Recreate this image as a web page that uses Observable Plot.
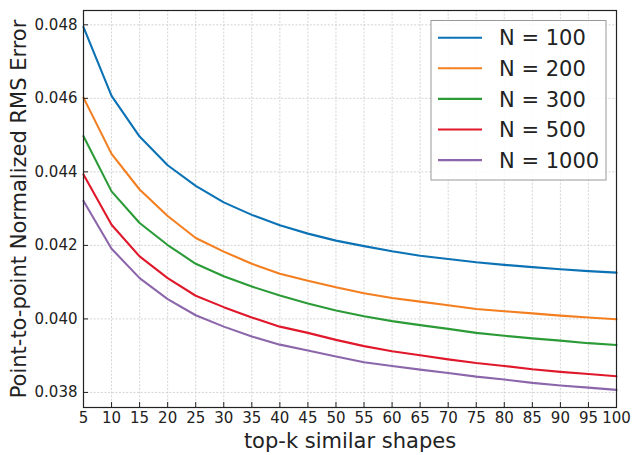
<!DOCTYPE html>
<html>
<head>
<meta charset="utf-8">
<script src="https://cdn.jsdelivr.net/npm/d3@7"></script>
<script src="https://cdn.jsdelivr.net/npm/@observablehq/plot@0.6"></script>
<style>
  html, body { margin: 0; padding: 0; background: white; }
</style>
</head>
<body>
<div id="chart"></div>
<script>
const kValues = [5, 10, 15, 20, 25, 30, 35, 40, 45, 50, 55, 60, 65, 70, 75, 80, 85, 90, 95, 100];
const seriesNames = ["N = 100", "N = 200", "N = 300", "N = 500", "N = 1000"];
const seriesColors = ["#0b72b5", "#f47f20", "#2b9b37", "#e0182b", "#8c66ab"];
const n100  = [0.04794, 0.04607, 0.04496, 0.04418, 0.04362, 0.04317, 0.04283, 0.04255, 0.04232, 0.04213, 0.04198, 0.04184, 0.04172, 0.04163, 0.04154, 0.04147, 0.04141, 0.04135, 0.04130, 0.04126];
const n200  = [0.04602, 0.04449, 0.04352, 0.04280, 0.04220, 0.04183, 0.04150, 0.04123, 0.04104, 0.04086, 0.04070, 0.04057, 0.04047, 0.04037, 0.04027, 0.04021, 0.04015, 0.04009, 0.04004, 0.03999];
const n300  = [0.04497, 0.04347, 0.04261, 0.04201, 0.04150, 0.04116, 0.04088, 0.04064, 0.04042, 0.04023, 0.04007, 0.03994, 0.03983, 0.03973, 0.03962, 0.03954, 0.03947, 0.03941, 0.03934, 0.03929];
const n500  = [0.04393, 0.04256, 0.04170, 0.04111, 0.04063, 0.04032, 0.04004, 0.03979, 0.03962, 0.03943, 0.03926, 0.03912, 0.03901, 0.03890, 0.03880, 0.03872, 0.03863, 0.03856, 0.03850, 0.03844];
const n1000 = [0.04321, 0.04191, 0.04111, 0.04054, 0.04010, 0.03979, 0.03952, 0.03930, 0.03914, 0.03898, 0.03882, 0.03872, 0.03862, 0.03853, 0.03843, 0.03835, 0.03826, 0.03819, 0.03813, 0.03807];
const yTicks = [0.038, 0.040, 0.042, 0.044, 0.046, 0.048];
const xTicks = kValues;
const xLabel = "top-k similar shapes";
const yLabel = "Point-to-point Normalized RMS Error";

const allSeries = [n100, n200, n300, n500, n1000];
const data = [];
allSeries.forEach((vals, si) => {
  vals.forEach((v, i) => data.push({k: kValues[i], v, series: seriesNames[si]}));
});

const W = 632, H = 455;
const plot = Plot.plot({
  width: W,
  height: H,
  marginLeft: 83,
  marginRight: 16,
  marginTop: 10,
  marginBottom: 48,
  style: {fontFamily: "'DejaVu Sans', sans-serif", fontSize: "15px", color: "#222", background: "white", overflow: "visible"},
  x: {domain: [5, 100]},
  y: {domain: [0.03759, 0.04839]},
  color: {domain: seriesNames, range: seriesColors},
  marks: [
    Plot.gridX(xTicks, {stroke: "#cfcfcf", strokeOpacity: 1, strokeWidth: 0.9, strokeDasharray: "2,1.6"}),
    Plot.gridY(yTicks, {stroke: "#cfcfcf", strokeOpacity: 1, strokeWidth: 0.9, strokeDasharray: "2,1.6"}),
    Plot.line(data, {x: "k", y: "v", z: "series", stroke: "series", strokeWidth: 2.1}),
    Plot.frame({stroke: "#222", strokeWidth: 1.2}),
    Plot.axisX(xTicks, {tickSize: 5, dy: -5, tickFormat: () => "", label: null, stroke: "#222"}),
    Plot.axisX(xTicks, {tickSize: 0, tickPadding: 5, tickFormat: d3.format("d"), label: null, fill: "#222", fontSize: 15}),
    Plot.axisY(yTicks, {tickSize: 5, dx: 5, tickFormat: () => "", label: null, stroke: "#222"}),
    Plot.axisY(yTicks, {tickSize: 0, tickPadding: 6, tickFormat: d3.format(".3f"), label: null, fill: "#222", fontSize: 15}),
    Plot.text([xLabel], {frameAnchor: "bottom", dy: 40, fontSize: 21, fill: "#222", textAnchor: "middle"}),
    Plot.text([yLabel], {frameAnchor: "left", dx: -64, rotate: -90, fontSize: 21, fill: "#222", textAnchor: "middle"})
  ]
});

// Legend (matplotlib-style box inside the axes)
const svg = d3.select(plot);
const lg = svg.append("g").attr("font-family", "'DejaVu Sans', sans-serif").attr("font-size", 21).attr("text-anchor", "start");
const lx = 431, ly = 20.5, lw = 175, lh = 159.5;
lg.append("rect").attr("x", lx).attr("y", ly).attr("width", lw).attr("height", lh)
  .attr("fill", "white").attr("fill-opacity", 0.85).attr("stroke", "#999").attr("stroke-width", 1);
seriesNames.forEach((name, i) => {
  const cy = 37.7 + i * 30.6;
  lg.append("line").attr("x1", 438).attr("x2", 482).attr("y1", cy).attr("y2", cy)
    .attr("stroke", seriesColors[i]).attr("stroke-width", 2.1);
  lg.append("text").attr("x", 499).attr("y", cy + 7.6).attr("fill", "#222").attr("text-anchor", "start").text(name);
});

document.getElementById("chart").appendChild(plot);
</script>
</body>
</html>
